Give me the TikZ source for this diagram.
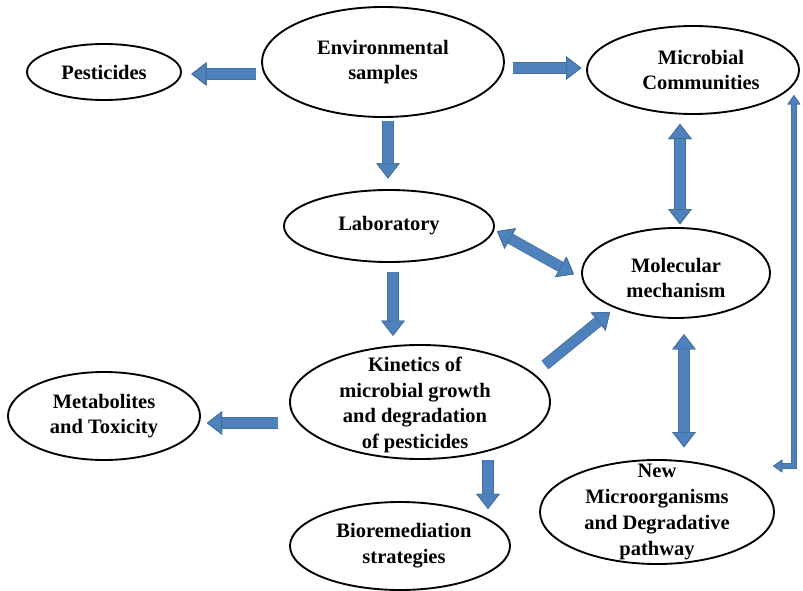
\documentclass[tikz,border=0pt]{standalone}
\usepackage{fontspec}
\setmainfont{Liberation Serif}
\usetikzlibrary{arrows.meta, shapes.geometric, calc}
\definecolor{ablue}{HTML}{4F81BD}
\definecolor{adark}{HTML}{41719C}
\tikzset{
  oval/.style   = {draw=black, ellipse, line width=1.6pt, inner sep=0pt},
  txt/.style    = {font=\bfseries\fontsize{17.5}{22}\selectfont, align=center, inner sep=0pt},
  bt/.tip       = {Triangle[length=13pt, width=20pt, color=adark, fill=ablue, line width=0.7pt]},
  pt/.tip       = {Triangle[length=13pt, width=20pt, line width=0.7pt]},
  st/.tip       = {Triangle[length=8pt, width=11pt, color=adark, fill=ablue, line width=0.6pt]},
  spt/.tip      = {Triangle[length=8pt, width=11pt, line width=0.6pt]},
  barrow/.style = {line width=8pt, draw=ablue, -bt,
                   preaction={draw=adark, line width=9.4pt, -pt}},
  dbarrow/.style= {line width=8pt, draw=ablue, bt-bt,
                   preaction={draw=adark, line width=9.4pt, pt-pt}},
  elbow/.style  = {line width=3.6pt, draw=ablue, st-st,
                   preaction={draw=adark, line width=4.8pt, spt-spt}},
}

\begin{document}
\begin{tikzpicture}[x=0.03cm, y=-0.03cm]
\useasboundingbox (0,0) rectangle (803,591);

% ellipses
\node[oval, minimum width=4.62cm, minimum height=1.68cm,
      label={[txt]center:Pesticides}] (pest) at (104,72) {};
\node[oval, minimum width=7.26cm, minimum height=3.3cm,
      label={[txt]center:Environmental\\samples}] (env) at (383,62) {};
\node[oval, minimum width=6.36cm, minimum height=2.64cm,
      label={[txt, xshift=0.24cm]center:Microbial\\Communities}] (micro) at (693,70) {};
\node[oval, minimum width=6.3cm, minimum height=2.16cm,
      label={[txt]center:Laboratory}] (lab) at (389,226) {};
\node[oval, minimum width=5.64cm, minimum height=2.7cm,
      label={[txt, yshift=-0.15cm]center:Molecular\\mechanism}] (mol) at (676,273) {};
\node[oval, minimum width=7.8cm, minimum height=3.42cm,
      label={[txt, xshift=-0.15cm, yshift=-0.09cm]center:Kinetics of\\microbial growth\\and degradation\\of pesticides}] (kin) at (420,402) {};
\node[oval, minimum width=5.76cm, minimum height=2.64cm,
      label={[txt]center:Metabolites\\and Toxicity}] (meta) at (104,416) {};
\node[oval, minimum width=6.6cm, minimum height=2.64cm,
      label={[txt, xshift=0.12cm]center:Bioremediation\\strategies}] (bio) at (400,546) {};
\node[oval, minimum width=7.02cm, minimum height=3.12cm,
      label={[txt]center:New\\Microorganisms\\and Degradative\\pathway}] (newm) at (657,512) {};

% start points of the straight arrows
\path (env.south)  ++(5,0)  coordinate (el)
      (lab.south)  ++(4,0)  coordinate (lk)
      (mol.south)  ++(8,0)  coordinate (mn)
      (kin.south)  ++(68,0) coordinate (kb);

% block arrows
\draw[barrow, shorten <=1pt, shorten >=8pt] ($(env.west)+(-4,12)$) -- ($(pest.east)+(0,2)$);
\draw[barrow, shorten <=7pt, shorten >=4pt] ($(env.east)+(0,6)$) -- ($(micro.west)+(0,-2)$);
\draw[barrow, shorten <=3pt, shorten >=9pt] (el) -- (el |- lab.north);
\draw[dbarrow, shorten <=2pt, shorten >=3pt] ($(lab.east)+(0,4)$) -- ($(mol.west)+(-4,3)$);
\draw[dbarrow, shorten <=5pt, shorten >=4pt] ($(micro.south)+(-13,3)$) -- ($(mol.north)+(4,2)$);
\draw[barrow, shorten <=8pt, shorten >=7pt] (lk) -- (lk |- kin.north);
\draw[barrow] ($(kin.center)+(125,-37)$) -- ($(mol.center)+(-66,39)$);
\draw[dbarrow, shorten <=13pt, shorten >=10pt] (mn) -- (mn |- newm.north);
\draw[barrow, shorten <=1pt, shorten >=5pt] ($(kin.west)+(-10,21)$) -- ($(meta.east)+(0,7)$);
\draw[barrow] (kb) -- (kb |- bio.north) -- ++(0,8);
\draw[elbow] ($(micro.east)+(-6,25)$) |- ($(newm.east)+(-2,-46)$);
\end{tikzpicture}
\end{document}
